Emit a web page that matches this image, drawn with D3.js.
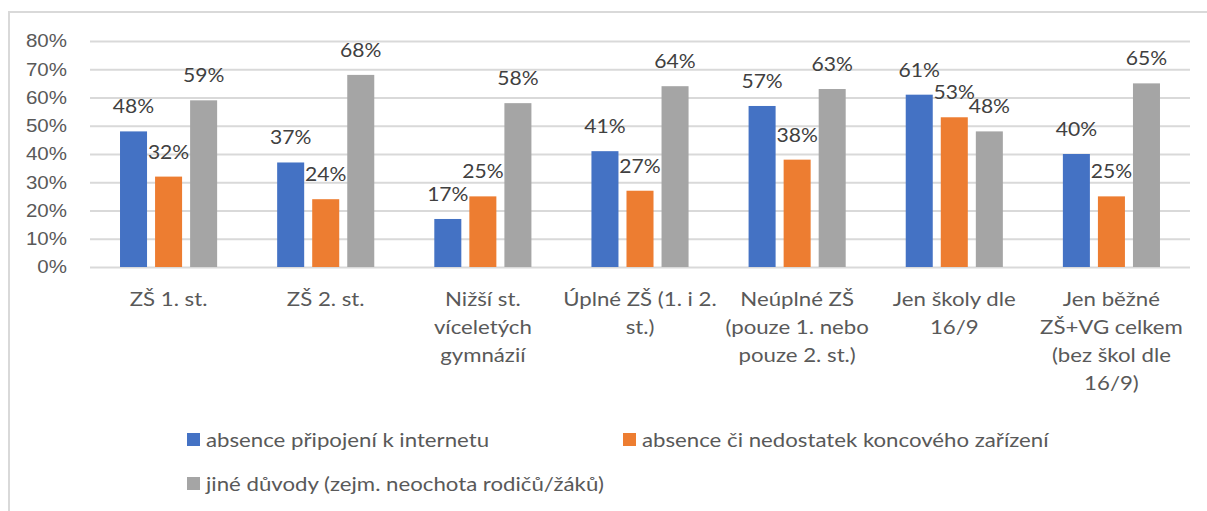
<!DOCTYPE html>
<html lang="cs">
<head>
<meta charset="UTF-8">
<title>Důvody nezapojení žáků</title>
<style>
  body { margin: 0; background: #fff; }
  svg { display: block; font-family: Lato, "Open Sans", sans-serif; }
  .grid line { stroke: #d9d9d9; stroke-width: 2px; }
  .grid .domain { display: none; }
  .yaxis text { fill: #595959; font-size: 18px; }
  .cat text { fill: #595959; font-size: 19.5px; }
  .lbl { fill: #404040; font-size: 18.5px; }
  .legend text { fill: #595959; font-size: 19.5px; }
</style>
<script src="https://d3js.org/d3.v7.min.js"></script>
</head>
<body>
<svg width="1207" height="511"></svg>
<script>
// categories (label lines already split like in the original)
const categories = [
  ["ZŠ 1. st."],
  ["ZŠ 2. st."],
  ["Nižší st.", "víceletých", "gymnázií"],
  ["Úplné ZŠ (1. i 2.", "st.)"],
  ["Neúplné ZŠ", "(pouze 1. nebo", "pouze 2. st.)"],
  ["Jen školy dle", "16/9"],
  ["Jen běžné", "ZŠ+VG celkem", "(bez škol dle", "16/9)"]
];
const seriesNames = [
  "absence připojení k internetu",
  "absence či nedostatek koncového zařízení",
  "jiné důvody (zejm. neochota rodičů/žáků)"
];
const colors = ["#4472c4", "#ed7d31", "#a5a5a5"];

const absInternet = [0.48, 0.37, 0.17, 0.41, 0.57, 0.61, 0.40];
const absDevice   = [0.32, 0.24, 0.25, 0.27, 0.38, 0.53, 0.25];
const otherReason = [0.59, 0.68, 0.58, 0.64, 0.63, 0.48, 0.65];
const yTicks = [0, 0.1, 0.2, 0.3, 0.4, 0.5, 0.6, 0.7, 0.8];

const series = [absInternet, absDevice, otherReason];

// the original text is a bit wider than Lato, stretch it horizontally
const SX = 1.14;

const svg = d3.select("svg");

// chart border
svg.append("rect")
  .attr("x", 9).attr("y", 12)
  .attr("width", 1210).attr("height", 520)
  .attr("fill", "none").attr("stroke", "#d9d9d9").attr("stroke-width", 2);

const plotL = 90, plotR = 1190, plotT = 41, plotB = 267;

const x = d3.scaleBand()
  .domain(d3.range(categories.length))
  .range([plotL, plotR])
  .paddingInner(0.382)
  .paddingOuter(0.191);

const xs = d3.scaleBand()
  .domain(d3.range(series.length))
  .range([0, x.bandwidth()])
  .paddingInner(0.229);

const y = d3.scaleLinear().domain([0, 0.8]).range([plotB, plotT]);

// gridlines
svg.append("g")
  .attr("class", "grid")
  .attr("transform", `translate(${plotL},0)`)
  .call(d3.axisLeft(y).tickValues(yTicks).tickSize(-(plotR - plotL)).tickFormat(""));

// y labels
svg.append("g")
  .attr("class", "yaxis")
  .attr("transform", `translate(${plotL},0)`)
  .call(d3.axisLeft(y).tickValues(yTicks).tickSize(0).tickFormat(d3.format(".0%")))
  .call(g => g.select(".domain").remove())
  .call(g => g.selectAll("text")
    .attr("x", -23 / SX)
    .attr("transform", `scale(${SX},1)`));

// bars
series.forEach((vals, si) => {
  const g = svg.append("g");
  g.selectAll("rect")
    .data(vals)
    .join("rect")
    .attr("x", (d, i) => x(i) + xs(si))
    .attr("y", d => y(d))
    .attr("width", xs.bandwidth())
    .attr("height", d => y(0) - y(d))
    .attr("fill", colors[si]);
  g.selectAll("text")
    .data(vals)
    .join("text")
    .attr("class", "lbl")
    .attr("transform", (d, i) =>
      `translate(${x(i) + xs(si) + xs.bandwidth() / 2},${y(d) - 18}) scale(${SX},1)`)
    .attr("text-anchor", "middle")
    .text(d => d3.format(".0%")(d));
});

// category labels
const cat = svg.append("g").attr("class", "cat");
categories.forEach((lines, i) => {
  const t = cat.append("text")
    .attr("text-anchor", "middle")
    .attr("transform", `translate(${x(i) + x.bandwidth() / 2},306) scale(${SX},1)`);
  lines.forEach((ln, k) => {
    t.append("tspan")
      .attr("x", 0)
      .attr("dy", k === 0 ? 0 : 28)
      .text(ln);
  });
});

// legend
const legendPos = [[187, 439.5], [623, 439.5], [187, 483.5]];
const legend = svg.append("g").attr("class", "legend");
seriesNames.forEach((name, i) => {
  const [lx, ly] = legendPos[i];
  legend.append("rect")
    .attr("x", lx).attr("y", ly - 6.5)
    .attr("width", 13).attr("height", 13)
    .attr("fill", colors[i]);
  legend.append("text")
    .attr("transform", `translate(${lx + 19},${ly + 7}) scale(${SX},1)`)
    .text(name);
});
</script>
</body>
</html>
